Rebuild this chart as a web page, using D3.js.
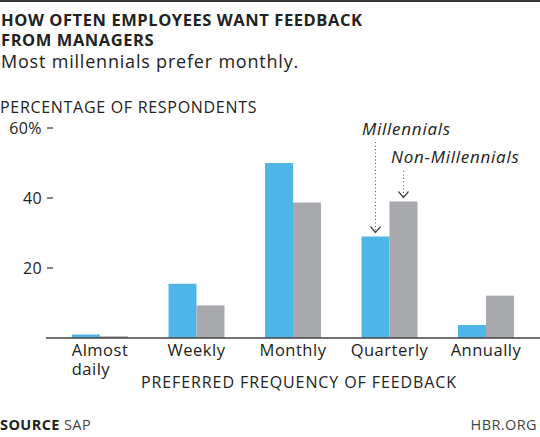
<!DOCTYPE html>
<html lang="en">
<head>
  <meta charset="UTF-8" />
  <title>How often employees want feedback</title>
  <script src="https://cdn.jsdelivr.net/npm/d3@7"></script>
  <style>
  body {
    margin: 0;
    background: #fff;
  }
  text {
    font-family: "Open Sans", Roboto, sans-serif;
    fill: #222;
  }
  </style>
</head>
<body>
<script>
// data
var categories = ["Almost daily", "Weekly", "Monthly", "Quarterly", "Annually"];
var millennials = [1, 15.5, 50, 29, 3.7];
var nonMillennials = [0.5, 9.3, 38.7, 39, 12.1];
var seriesNames = ["Millennials", "Non-Millennials"];
var yTicks = [20, 40, 60];

var w = 540,
    h = 437;

var svg = d3.select("body").append("svg")
    .attr("width", w)
    .attr("height", h);

// top rule
svg.append("rect")
    .attr("x", 0).attr("y", 0)
    .attr("width", w).attr("height", 2)
    .attr("fill", "#333");

svg.append("text")
    .attr("x", 1).attr("y", 26)
    .style("font-weight", "700")
    .style("font-size", "16.5px")
    .style("letter-spacing", "0.57px")
    .text("HOW OFTEN EMPLOYEES WANT FEEDBACK");
svg.append("text")
    .attr("x", 1).attr("y", 46)
    .style("font-weight", "700")
    .style("font-size", "16.5px")
    .style("letter-spacing", "0.57px")
    .text("FROM MANAGERS");
svg.append("text")
    .attr("x", 1).attr("y", 68)
    .style("font-size", "18px")
    .style("letter-spacing", "0.8px")
    .text("Most millennials prefer monthly.");
svg.append("text")
    .attr("x", 0).attr("y", 113)
    .style("font-size", "16px")
    .style("letter-spacing", "0.7px")
    .text("PERCENTAGE OF RESPONDENTS");

var xScale = d3.scaleBand()
    .domain(categories)
    .range([46, 540])
    .paddingInner(0.42)
    .paddingOuter(0.27);

var yScale = d3.scaleLinear()
    .domain([0, 60])
    .range([338, 128]);

var half = xScale.bandwidth() / 2;

// y ticks
var tick = svg.selectAll(".ytick")
    .data(yTicks)
  .enter()
  .append("g")
    .attr("class", "ytick")
    .attr("transform", function(d) { return "translate(0," + yScale(d) + ")"; });
tick.append("line")
    .attr("x1", 47).attr("x2", 53)
    .attr("stroke", "#333").attr("stroke-width", 1.2);
tick.append("text")
    .attr("x", 42).attr("dy", "0.36em")
    .attr("text-anchor", "end")
    .style("font-size", "16px")
    .style("letter-spacing", "0.4px")
    .text(function(d) { return d == 60 ? d + "%" : d; });

// bars
var group = svg.selectAll(".grp")
    .data(categories)
  .enter()
  .append("g")
    .attr("class", "grp")
    .attr("transform", function(d) { return "translate(" + xScale(d) + ",0)"; });

group.append("rect")
    .attr("x", 0)
    .attr("width", half)
    .attr("y", function(d, i) { return yScale(millennials[i]); })
    .attr("height", function(d, i) { return yScale(0) - yScale(millennials[i]); })
    .attr("fill", "#50b5e8");

group.append("rect")
    .attr("x", half)
    .attr("width", half)
    .attr("y", function(d, i) { return yScale(nonMillennials[i]); })
    .attr("height", function(d, i) { return yScale(0) - yScale(nonMillennials[i]); })
    .attr("fill", "#a7a9ac");

// baseline
svg.append("line")
    .attr("x1", 46).attr("x2", 540)
    .attr("y1", yScale(0)).attr("y2", yScale(0))
    .attr("stroke", "#444").attr("stroke-width", 1.3);

// category labels, second line left-aligned with the first
svg.selectAll(".xlab")
    .data(categories)
  .enter()
  .append("g")
    .attr("class", "xlab")
  .each(function(d) {
    var g = d3.select(this);
    var parts = d.split(" ");
    var cx = xScale(d) + half;
    var first = g.append("text")
        .attr("y", 356)
        .style("font-size", "16.5px")
        .style("letter-spacing", "0.5px")
        .text(parts[0]);
    var x0 = cx - first.node().getComputedTextLength() / 2;
    first.attr("x", x0);
    if (parts[1]) {
      g.append("text")
          .attr("x", x0).attr("y", 375)
          .style("font-size", "16.5px")
          .style("letter-spacing", "0.5px")
          .text(parts[1]);
    }
  });

svg.append("text")
    .attr("x", 299).attr("y", 388)
    .attr("text-anchor", "middle")
    .style("font-size", "16px")
    .style("letter-spacing", "0.9px")
    .text("PREFERRED FREQUENCY OF FEEDBACK");

// series annotations
var quarter = "Quarterly";
var annot = [
  {name: seriesNames[0], x: xScale(quarter) + half / 2, ty: 135, tx: 362, top: 142, val: millennials[3]},
  {name: seriesNames[1], x: xScale(quarter) + half * 1.5, ty: 163, tx: 391, top: 171, val: nonMillennials[3]}
];
annot.forEach(function(a) {
  svg.append("text")
      .attr("x", a.tx).attr("y", a.ty)
      .style("font-size", "17px")
      .style("font-style", "italic")
      .style("letter-spacing", "0.75px")
      .text(a.name);
  var tip = yScale(a.val) - 4;
  svg.append("line")
      .attr("x1", a.x).attr("x2", a.x)
      .attr("y1", a.top).attr("y2", tip - 1)
      .attr("stroke", "#555").attr("stroke-width", 1)
      .attr("stroke-dasharray", "1,2.5");
  svg.append("path")
      .attr("d", "M" + (a.x - 5) + "," + (tip - 6) + "L" + a.x + "," + tip + "L" + (a.x + 5) + "," + (tip - 6))
      .attr("fill", "none")
      .attr("stroke", "#444").attr("stroke-width", 1.2);
});

// footer
var src = svg.append("text")
    .attr("x", 0).attr("y", 430)
    .style("font-size", "14.5px")
    .style("letter-spacing", "0.4px");
src.append("tspan").style("font-weight", "700").text("SOURCE");
src.append("tspan").style("fill", "#444").text(" SAP");
svg.append("text")
    .attr("x", 537).attr("y", 430)
    .attr("text-anchor", "end")
    .style("font-size", "14.5px")
    .style("letter-spacing", "0.4px")
    .style("fill", "#444")
    .text("HBR.ORG");
</script>
</body>
</html>
